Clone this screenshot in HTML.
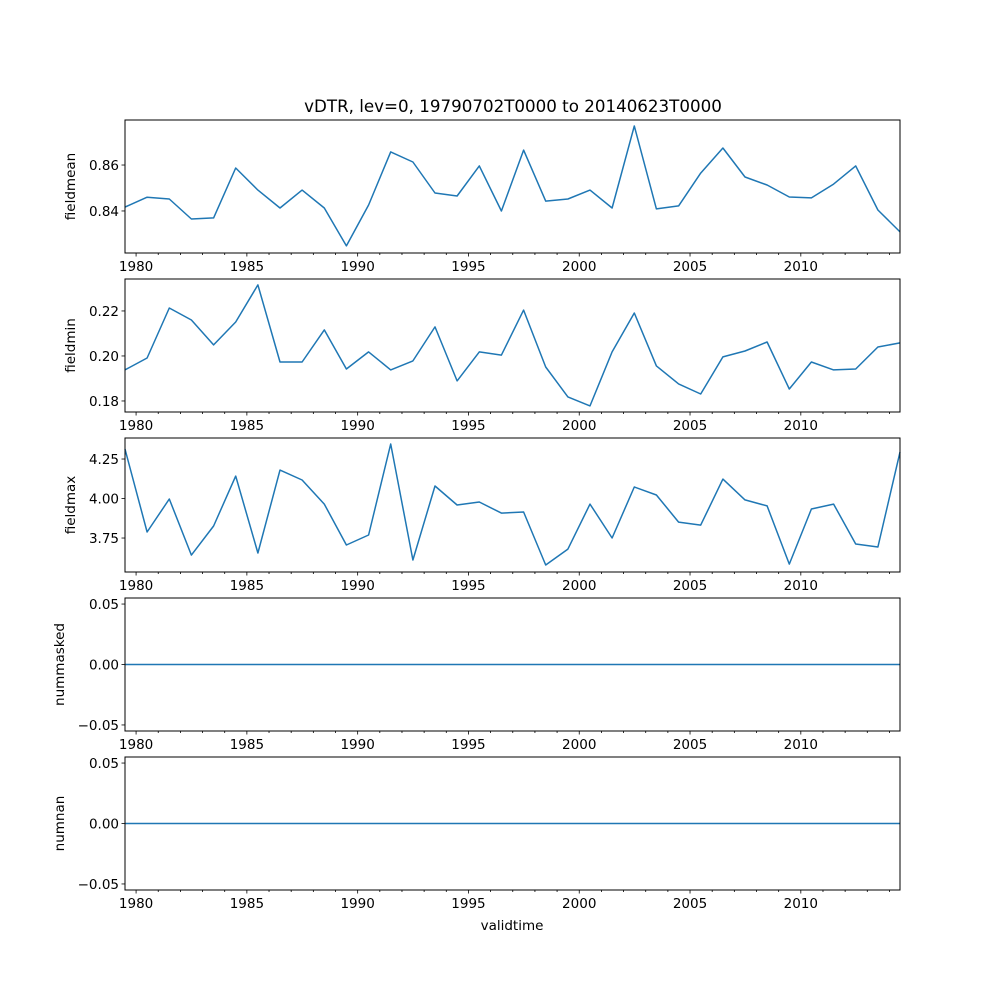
<!DOCTYPE html>
<html><head><meta charset="utf-8"><style>
body{margin:0;background:#fff}
svg{display:block;font-family:"DejaVu Sans","Liberation Sans",sans-serif}
</style></head><body>
<svg id="fig" width="1000" height="1000" viewBox="0 0 1000 1000"></svg>
<script>
const fieldmean=[0.8417,0.846,0.8452,0.8365,0.837,0.8587,0.8491,0.8413,0.8491,0.8413,0.8248,0.8426,0.8657,0.8613,0.8478,0.8465,0.8596,0.84,0.8665,0.8443,0.8452,0.8491,0.8413,0.877,0.8409,0.8422,0.8565,0.8674,0.8548,0.8513,0.8461,0.8457,0.8517,0.8596,0.8404,0.8309];
const fieldmin=[0.1938,0.1991,0.2213,0.216,0.2049,0.2151,0.2316,0.1973,0.1973,0.2116,0.1942,0.2018,0.1938,0.1978,0.2129,0.1889,0.2018,0.2004,0.2204,0.1951,0.1818,0.1778,0.2018,0.2191,0.1956,0.1876,0.1831,0.1996,0.2022,0.2062,0.1853,0.1973,0.1938,0.1942,0.204,0.2058];
const fieldmax=[4.313,3.788,3.997,3.642,3.826,4.142,3.655,4.18,4.117,3.965,3.706,3.769,4.345,3.611,4.079,3.959,3.978,3.908,3.915,3.579,3.68,3.965,3.75,4.073,4.022,3.851,3.832,4.123,3.991,3.953,3.585,3.934,3.965,3.712,3.693,4.294];
const nummasked=new Array(36).fill(0);
const numnan=new Array(36).fill(0);
const xTickLabels=["1980","1985","1990","1995","2000","2005","2010"];
const ticks1=["0.84","0.86"],ticks2=["0.18","0.20","0.22"],ticks3=["3.75","4.00","4.25"],ticks0=["−0.05","0.00","0.05"];
const tickVals1=[0.84,0.86],tickVals2=[0.18,0.2,0.22],tickVals3=[3.75,4,4.25],tickVals0=[-0.05,0,0.05];
const start=1979.5,end=2014.476;
const L=125,R=900;
const ns="http://www.w3.org/2000/svg";
const svg=document.getElementById('fig');
function mk(t,a,p){const e=document.createElementNS(ns,t);for(const k in a)e.setAttribute(k,a[k]);(p||svg).appendChild(e);return e;}
const xs=v=>L+(v-start)/(end-start)*(R-L);
const panels=[
 {name:'fieldmean',data:fieldmean,top:120,bot:253,lo:0.8217,hi:0.8796,tl:ticks1,tv:tickVals1},
 {name:'fieldmin',data:fieldmin,top:279,bot:412,lo:0.1751,hi:0.2342,tl:ticks2,tv:tickVals2},
 {name:'fieldmax',data:fieldmax,top:438,bot:572,lo:3.535,hi:4.383,tl:ticks3,tv:tickVals3},
 {name:'nummasked',data:nummasked,top:598,bot:731,lo:-0.055,hi:0.055,tl:ticks0,tv:tickVals0},
 {name:'numnan',data:numnan,top:757,bot:890,lo:-0.055,hi:0.055,tl:ticks0,tv:tickVals0}];
const t=mk('text',{x:513,y:112,'font-size':16.7,'text-anchor':'middle'});
t.textContent='vDTR, lev=0, 19790702T0000 to 20140623T0000';


panels.forEach(p=>{
 const g=mk('g',{});
 
 
 const ys=v=>p.bot-(v-p.lo)/(p.hi-p.lo)*(p.bot-p.top);
 const pts=p.data.map((v,i)=>xs(start+i*(end-start)/35).toFixed(1)+','+ys(v).toFixed(1)).join(' ');
 const line=mk('polyline',{points:pts,fill:'none',stroke:'#1f77b4','stroke-width':1.5,'stroke-linejoin':'round'},g);
 
 
 const fr=mk('rect',{x:L,y:p.top,width:R-L,height:p.bot-p.top,fill:'none',stroke:'#000','stroke-width':1},g);
 
 
 for(let y=1980;y<=2014;y++){
  const x=xs(y),major=y%5===0;
  mk('line',{x1:x,x2:x,y1:p.bot,y2:p.bot+(major?3.5:2),stroke:'#000','stroke-width':0.8},g);
 }
 xTickLabels.forEach(s=>{
  const tx=mk('text',{x:xs(+s),y:p.bot+18,'font-size':13.5,'text-anchor':'middle'},g);
  tx.textContent=s;
  
  
 });
 p.tv.forEach((v,i)=>{
  const y=ys(v);
  mk('line',{x1:L-3.5,x2:L,y1:y,y2:y,stroke:'#000','stroke-width':0.8},g);
  const tx=mk('text',{x:L-6,y:y+5,'font-size':13.5,'text-anchor':'end'},g);
  tx.textContent=p.tl[i];
  
  
 });
 const cy=(p.top+p.bot)/2;
 const yl=mk('text',{x:0,y:0,'font-size':13.5,'text-anchor':'middle',transform:`translate(${p.name.startsWith('num')?64:75},${cy}) rotate(-90)`},g);
 yl.textContent=p.name;
 
 
});
const xl=mk('text',{x:512,y:930,'font-size':13.5,'text-anchor':'middle'});
xl.textContent='validtime';


</script>
</body></html>
